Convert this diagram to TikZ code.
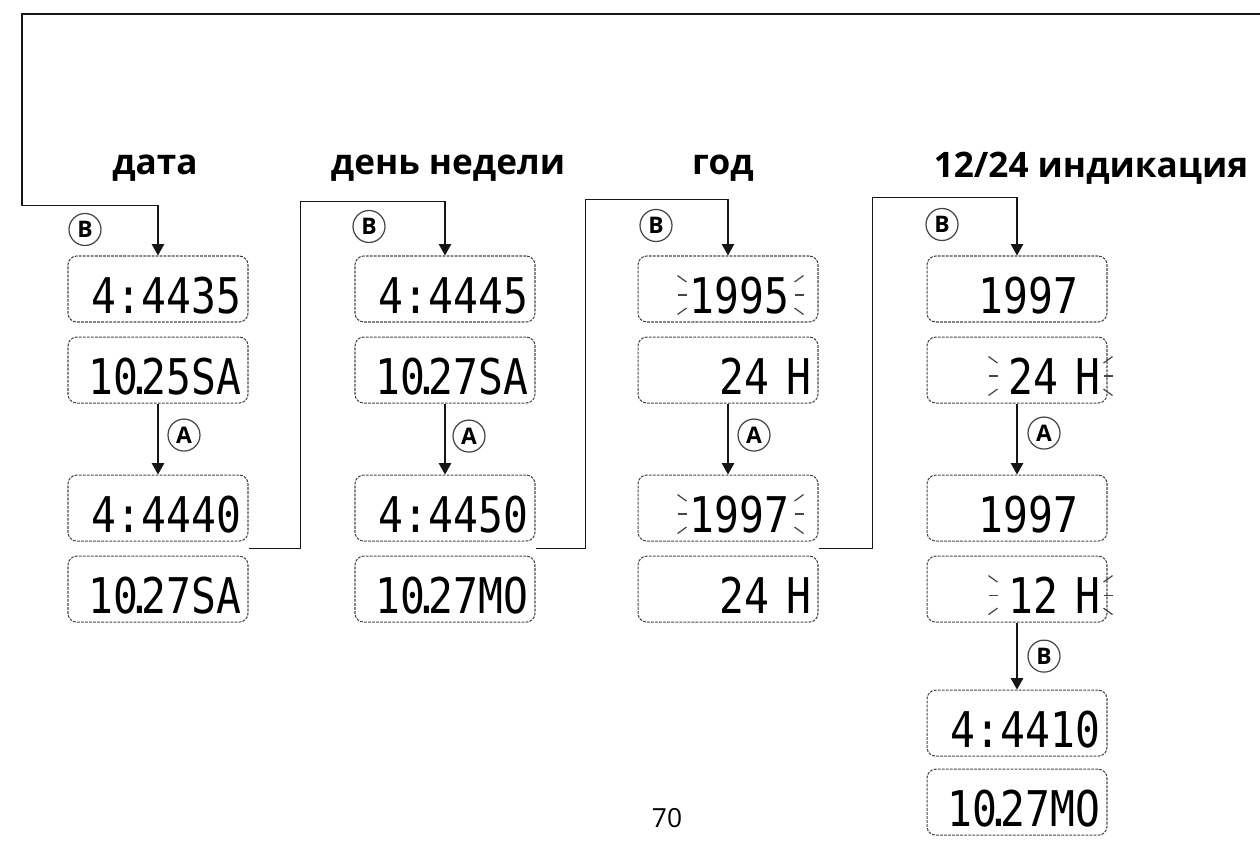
\documentclass[tikz,border=0pt]{standalone}
\usepackage{fontspec}
\usepackage{xcolor}
\usepackage{tikz}
\usetikzlibrary{positioning,arrows.meta,calc}
\setsansfont{Open Sans}
\newfontfamily\lcdfont[FakeStretch=0.84]{DejaVu Sans Mono}
\definecolor{ink}{RGB}{22,22,22}
\definecolor{rim}{RGB}{70,70,70}
\newcommand{\lcddot}{\kern-0.22em.\kern-0.22em}
\newcommand{\flash}[3]{%
  \foreach \raydy in {-13,0,13}
    \draw[ray] ($(#1.east)+(#2,6+\raydy)+(-3,0)$) -- ++(-9,0.5*\raydy);
  \foreach \raydy in {-13,0,13}
    \draw[ray] ($(#1.east)+(#3,6+\raydy)+(3,0)$) -- ++(9,0.5*\raydy);}

\begin{document}
\begin{tikzpicture}[x=0.02cm, y=-0.02cm,
		lcd/.style={draw=rim, dash pattern=on 1.6pt off 0.7pt, line width=0.6pt,
			rounded corners=5pt, minimum width=3.6cm, minimum height=1.32cm,
			inner xsep=0.14cm, inner ysep=0pt, text width=3.32cm, align=right,
			text height=28pt, text depth=0pt, font=\lcdfont\fontsize{28}{28}\selectfont},
		key/.style={circle, draw=rim, line width=0.7pt, minimum size=0.64cm, inner sep=0pt,
			font=\sffamily\bfseries\fontsize{13}{13}\selectfont},
		head/.style={font=\sffamily\bfseries\fontsize{20}{20}\selectfont},
		conn/.style={line width=1pt, ink},
		arr/.style={conn, -{Triangle[length=6.5pt, width=7pt]}},
		ray/.style={line width=0.7pt, rim}]
		\useasboundingbox (0,0) rectangle (1260,842);
		\clip (0,0) rectangle (1260,842);
		\node[head] (t1) at (155,168) {дата};
		\node[head] (t2) at (448,168) {день недели};
		\node[head] (t3) at (723,168) {год};
		\node[head] (t4) at (1091,168) {12/24 индикация};

		\node[lcd] (a1) at (158,289) {4:4435};
		\node[lcd, below=0.28cm of a1] (a2) {10\lcddot25SA};
		\node[lcd, below=1.42cm of a2] (a3) {4:4440};
		\node[lcd, below=0.28cm of a3] (a4) {10\lcddot27SA};

		\node[lcd] (b1) at (445,289) {4:4445};
		\node[lcd, below=0.28cm of b1] (b2) {10\lcddot27SA};
		\node[lcd, below=1.42cm of b2] (b3) {4:4450};
		\node[lcd, below=0.28cm of b3] (b4) {10\lcddot27MO};

		\node[lcd] (c1) at (728,289) {1995\kern0.44cm};
		\node[lcd, below=0.28cm of c1] (c2) {24 H};
		\node[lcd, below=1.42cm of c2] (c3) {1997\kern0.44cm};
		\node[lcd, below=0.28cm of c3] (c4) {24 H};

		\node[lcd] (d1) at (1017,289) {1997\kern0.44cm};
		\node[lcd, below=0.28cm of d1] (d2) {24 H};
		\node[lcd, below=1.42cm of d2] (d3) {1997\kern0.44cm};
		\node[lcd, below=0.28cm of d3] (d4) {12 H};
		\node[lcd, below=1.34cm of d4] (d5) {4:4410};
		\node[lcd, below=0.24cm of d5] (d6) {10\lcddot27MO};

		\flash{c1}{-129}{-27}
		\flash{c3}{-129}{-27}
		\flash{d2}{-107}{-7}
		\flash{d4}{-107}{-7}

		\node[key] (kb1) at ($(a1.north)+(-73,-26)$) {B};
		\node[key] (kb2) at ($(b1.north)+(-76,-29)$) {B};
		\node[key] (kb3) at ($(c1.north)+(-72,-30)$) {B};
		\node[key] (kb4) at ($(d1.north)+(-75,-31)$) {B};
		\node[key] (ka1) at ($(a2.south)!0.5!(a3.north)+(26,-4)$) {A};
		\node[key] (ka2) at ($(b2.south)!0.5!(b3.north)+(24,-3)$) {A};
		\node[key] (ka3) at ($(c2.south)!0.5!(c3.north)+(26,-4)$) {A};
		\node[key] (ka4) at ($(d2.south)!0.5!(d3.north)+(27,-6)$) {A};
		\node[key] (kb5) at ($(d4.south)!0.5!(d5.north)+(27,0)$) {B};

		\coordinate (loop) at (1262,14);
		\coordinate (ja) at ($(a3.south east)!0.5!(a4.north east)$);
		\coordinate (jb) at ($(b3.south east)!0.5!(b4.north east)$);
		\coordinate (jc) at ($(c3.south east)!0.5!(c4.north east)$);
		\draw[arr] (loop) -- (22,14) |- ($(a1.north)+(0,-50)$) -- (a1.north);
		\draw[arr] (ja) -- ++(52,0) |- ($(b1.north)+(0,-54)$) -- (b1.north);
		\draw[arr] (jb) -- ++(50,0) |- ($(c1.north)+(0,-56)$) -- (c1.north);
		\draw[arr] (jc) -- ++(54,0) |- ($(d1.north)+(0,-58)$) -- (d1.north);
		\draw[arr] (a2) -- (a3);
		\draw[arr] (b2) -- (b3);
		\draw[arr] (c2) -- (c3);
		\draw[arr] (d2) -- (d3);
		\draw[arr] (d4) -- (d5);

		\node[anchor=south, inner sep=0pt, font=\sffamily\fontsize{15}{15}\selectfont] (pg) at (667,828) {70};
	\end{tikzpicture}
\end{document}
